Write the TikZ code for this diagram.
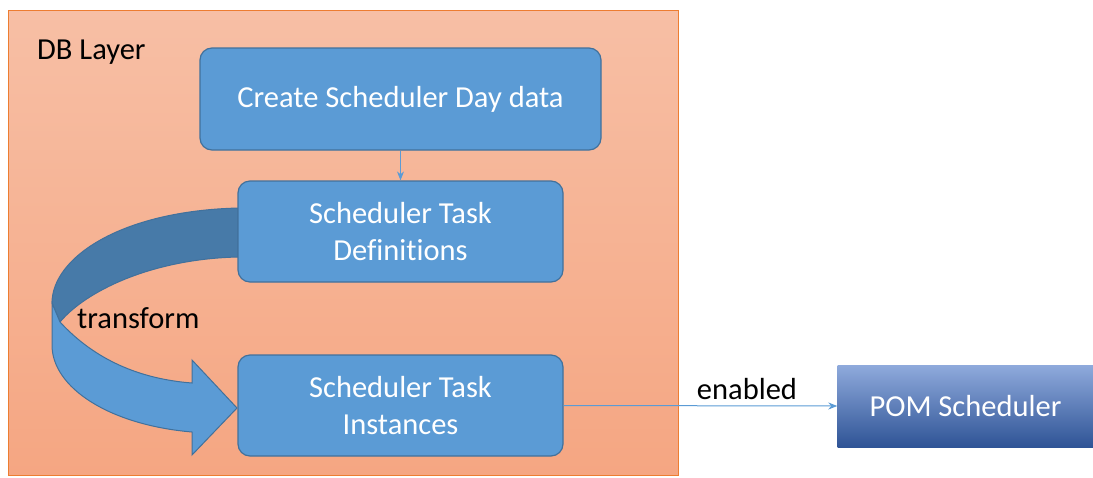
\documentclass[tikz,border=0pt]{standalone}
\usepackage{fontspec}
\setmainfont[Ligatures=CommonOff]{Carlito}
\usetikzlibrary{arrows.meta}
\definecolor{boxblue}{RGB}{91,155,213}
\definecolor{boxedge}{RGB}{65,113,156}
\definecolor{darkband}{RGB}{71,122,168}
\definecolor{orangeedge}{RGB}{237,125,49}
\definecolor{orangetop}{RGB}{247,191,165}
\definecolor{orangebot}{RGB}{245,166,130}
\definecolor{pomtop}{RGB}{143,170,220}
\definecolor{pombot}{RGB}{47,84,150}
\tikzset{
  stepbox/.style={draw=boxedge, line width=1.2pt, fill=boxblue, rounded corners=12pt,
    text=white, align=center, inner sep=0pt, font=\fontsize{30.5}{37}\selectfont},
  conn/.style={draw=boxblue, line width=1pt, -{Stealth[length=9pt,width=7pt]}},
  lbl/.style={text=black, font=\fontsize{30.5}{37}\selectfont, inner sep=0pt}
}
\begin{document}
\begin{tikzpicture}[x=1pt,y=-1pt]
\useasboundingbox (0,0) rectangle (1093,477);
% DB layer background
\shade[top color=orangetop, bottom color=orangebot] (8,10) rectangle (678,475);
\draw[orangeedge, line width=0.8pt] (8,10) rectangle (678,475);
\node[lbl, anchor=west] (dblayer) at (37,52) {DB Layer};
% curved arrow: dark back band
\fill[darkband, draw=boxedge, line width=1pt]
  (238,208) .. controls (120,211) and (52,258) .. (52,303)
  -- (60,322)
  .. controls (85,292) and (150,259) .. (238,257) -- cycle;
% curved arrow: light front band with head
\fill[boxblue, draw=boxedge, line width=1pt]
  (52,303) -- (60,322)
  .. controls (95,360) and (140,379) .. (192,383)
  -- (192,360) -- (237,408) -- (192,455) -- (192,432)
  .. controls (110,425) and (52,388) .. (52,345) -- cycle;
\node[lbl, anchor=west] (transform) at (77,318) {transform};
% boxes
\node[stepbox, minimum width=401pt, minimum height=102pt] (create) at (400.5,99) {Create Scheduler Day data};
\node[stepbox, minimum width=325pt, minimum height=101pt] (defs) at (400.5,231.5) {Scheduler Task\\Definitions};
\node[stepbox, minimum width=325pt, minimum height=101pt] (inst) at (400.5,405.5) {Scheduler Task\\Instances};
\node[shade, top color=pomtop, bottom color=pombot, text=white, inner sep=0pt,
  minimum width=256pt, minimum height=82pt, font=\fontsize{30.5}{37}\selectfont] (pom) at (965.5,406) {POM Scheduler};
% connectors
\draw[conn] (create.south) -- (defs.north);
\draw[conn] (inst.east) -- (pom.west);
\node[lbl] (enabled) at (747,389) {enabled};
\end{tikzpicture}
\end{document}
